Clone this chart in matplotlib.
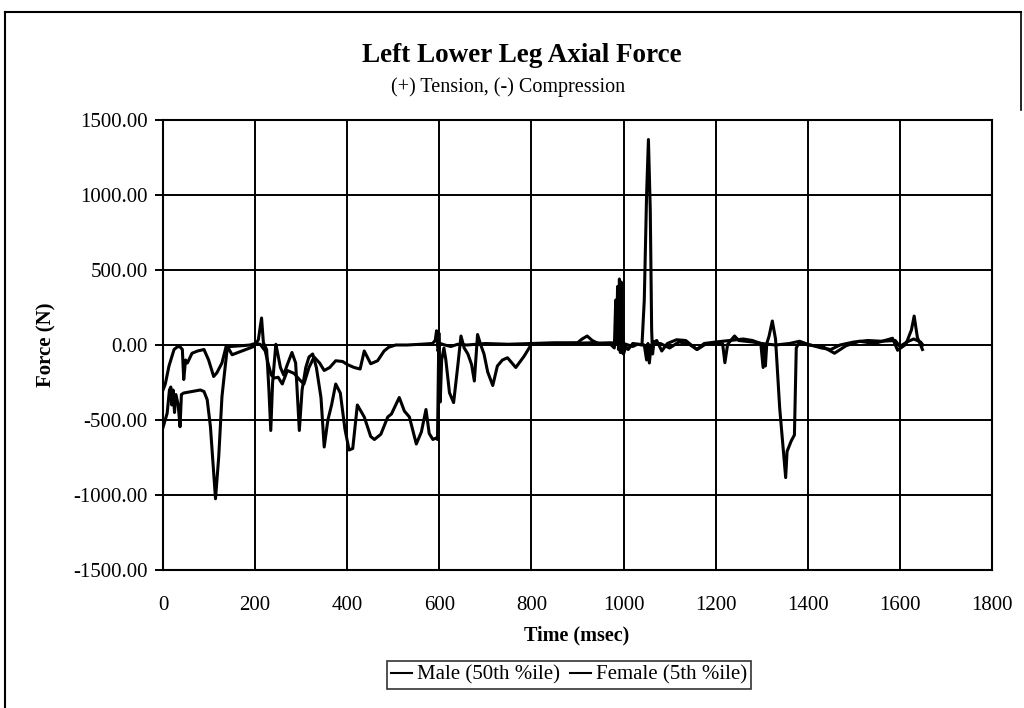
import matplotlib
matplotlib.use("Agg")
import matplotlib.pyplot as plt
from matplotlib.lines import Line2D

# ---------------- data ----------------
title = "Left Lower Leg Axial Force"
subtitle = "(+) Tension, (-) Compression"
x_label = "Time (msec)"
y_label = "Force (N)"
series_names = ["Male (50th %ile)", "Female (5th %ile)"]

x_ticks = [0, 200, 400, 600, 800, 1000, 1200, 1400, 1600, 1800]
y_ticks = [-1500, -1000, -500, 0, 500, 1000, 1500]

male_t = [0, 5, 13, 24, 32, 38, 42, 45, 49, 53, 63, 75, 89, 99, 110, 117, 128, 137,
          146, 170, 189, 200, 211, 222, 228, 235, 242, 250, 259, 270, 285, 296, 306,
          317, 328, 340, 350, 362, 375, 390, 400, 415, 428, 437, 451, 466, 480, 490,
          505, 530, 560, 585, 591, 594, 597, 602, 612, 625, 640, 660, 700, 750, 800,
          850, 900, 910, 921, 932, 945, 970, 1000, 1020, 1030, 1040, 1045, 1050, 1054,
          1058, 1061, 1063, 1066, 1072, 1083, 1095, 1115, 1135, 1159, 1175, 1200, 1230,
          1260, 1280, 1298, 1303, 1305, 1308, 1311, 1316, 1323, 1330, 1339, 1352, 1355,
          1364, 1371, 1375, 1382, 1400, 1432, 1458, 1483, 1512, 1545, 1573, 1584, 1595,
          1613, 1625, 1631, 1638, 1649]
male_f = [-300, -260, -140, -30, -10, -15, -30, -230, -100, -120, -55, -40, -30, -100,
          -210, -185, -120, -10, -10, -5, 0, 10, 5, -40, -120, -200, -220, -215, -260,
          -170, -190, -230, -260, -150, -80, -120, -170, -150, -105, -110, -130, -150,
          -160, -40, -125, -105, -40, -15, 0, 0, 5, 10, 30, 95, -40, 10, 0, -10, 5, 0,
          10, 5, 10, 15, 15, 40, 60, 30, 10, 15, 10, -10, 5, 0, 300, 1000, 1370, 900,
          100, -60, 20, 30, -40, 10, 35, 30, -30, 10, 20, 30, 40, 30, 10, -150, 0,
          -140, 10, 60, 160, 40, -420, -884, -710, -640, -600, -20, 20, 0, -10, -55,
          -5, 25, 10, 35, 45, -35, 5, 100, 193, 50, -30]

female_t = [0, 9, 14, 17, 19, 22, 25, 28, 33, 37, 40, 45, 81, 89, 96, 103, 114, 121,
            128, 135, 140, 150, 197, 207, 214, 218, 225, 230, 234, 238, 245, 248, 255,
            262, 270, 280, 288, 296, 302, 310, 317, 325, 333, 343, 350, 358, 366, 375,
            385, 395, 404, 412, 422, 437, 451, 459, 473, 488, 496, 513, 524, 535, 550,
            561, 571, 578, 586, 593, 596, 599, 602, 605, 610, 614, 622, 631, 640, 647,
            654, 662, 670, 676, 683, 690, 697, 705, 716, 726, 737, 748, 766, 784, 800,
            830, 880, 930, 970, 980, 983, 985, 987, 989, 991, 993, 995, 997, 1000,
            1005, 1010, 1020, 1045, 1050, 1053, 1056, 1060, 1080, 1100, 1120, 1140,
            1160, 1180, 1200, 1215, 1220, 1226, 1241, 1250, 1280, 1300, 1330, 1360,
            1382, 1400, 1430, 1450, 1470, 1500, 1530, 1560, 1590, 1600, 1615, 1630,
            1645, 1650]
female_f = [-550, -455, -300, -280, -400, -300, -450, -330, -400, -545, -330, -320,
            -300, -310, -365, -545, -1025, -745, -345, -145, -10, -65, -10, 35, 180, 15,
            -30, -300, -570, -250, 5, -40, -150, -200, -130, -50, -120, -570, -300,
            -150, -80, -60, -150, -350, -680, -500, -400, -260, -320, -560, -700, -690,
            -400, -480, -610, -630, -595, -480, -460, -350, -440, -480, -660, -580,
            -430, -590, -630, -620, -630, 80, -380, -100, -20, -96, -318, -384, -140,
            60, -20, -60, -130, -240, 70, 0, -60, -180, -270, -140, -100, -85, -150,
            -75, 5, 10, 10, 15, 10, -20, 300, 30, 390, -30, 440, -50, 420, -50, -60,
            -10, -30, 10, 0, -100, 10, -120, 0, 10, -20, 20, 10, -30, 10, 10, 10,
            -118, 5, 60, 30, 20, 10, 0, 10, 25, 5, -20, -30, 0, 20, 30, 25, 30, -10,
            20, 40, 20, 0]

# ---------------- figure ----------------
W, H = 1024, 708
fig = plt.figure(figsize=(W / 100, H / 100), dpi=100)
serif = ["Liberation Serif", "DejaVu Serif"]
plt.rcParams["font.family"] = serif

L, R, T, B = 163, 992, 120, 570
ax = fig.add_axes([L / W, 1 - B / H, (R - L) / W, (B - T) / H])

ax.plot(male_t, male_f, color="black", lw=2.2, label=series_names[0], zorder=3)
ax.plot(female_t, female_f, color="black", lw=2.2, label=series_names[1], zorder=3)

ax.set_xlim(0, 1800)
ax.set_ylim(-1500, 1500)
ax.set_xticks(x_ticks)
ax.set_yticks(y_ticks)
ax.set_yticklabels([f"{v:.2f}" for v in y_ticks])
ax.grid(True, color="black", lw=1.4)
ax.set_axisbelow(True)
for s in ax.spines.values():
    s.set_linewidth(1.5)
    s.set_color("black")
ax.tick_params(axis="y", direction="out", length=6, width=1.4, pad=5, labelsize=15)
ax.tick_params(axis="x", length=0, pad=19, labelsize=15)

# titles and axis labels
fig.text(522 / W, 1 - 56 / H, title, ha="center", va="center",
         fontsize=19.5, fontweight="bold")
fig.text(508 / W, 1 - 87 / H, subtitle, ha="center", va="center", fontsize=14.5)
fig.text(577 / W, 1 - 635 / H, x_label, ha="center", va="center",
         fontsize=14.5, fontweight="bold")
fig.text(46 / W, 1 - 345 / H, y_label, ha="center", va="center",
         fontsize=15, fontweight="bold", rotation=90)

# legend
handles = [Line2D([], [], color="black", lw=1.5), Line2D([], [], color="black", lw=1.5)]
leg = fig.legend(handles, series_names, loc="center", ncol=2,
                 bbox_to_anchor=(569 / W, 1 - 675 / H), frameon=True, fancybox=False,
                 fontsize=15, handlelength=1.0, handletextpad=0.25, columnspacing=0.5,
                 borderpad=0.2, borderaxespad=0)
leg.get_frame().set_edgecolor("black")
leg.get_frame().set_linewidth(1.2)

# outer chart border (top and left visible in the scan)
fig.add_artist(Line2D([5 / W, 1021 / W], [1 - 12 / H, 1 - 12 / H],
                      transform=fig.transFigure, color="black", lw=1.5))
fig.add_artist(Line2D([5 / W, 5 / W], [1 - 12 / H, 0],
                      transform=fig.transFigure, color="black", lw=1.5))
fig.add_artist(Line2D([1021 / W, 1021 / W], [1 - 12 / H, 1 - 110 / H],
                      transform=fig.transFigure, color="black", lw=1.2))

fig.savefig("out.png", dpi=100, facecolor="white")
